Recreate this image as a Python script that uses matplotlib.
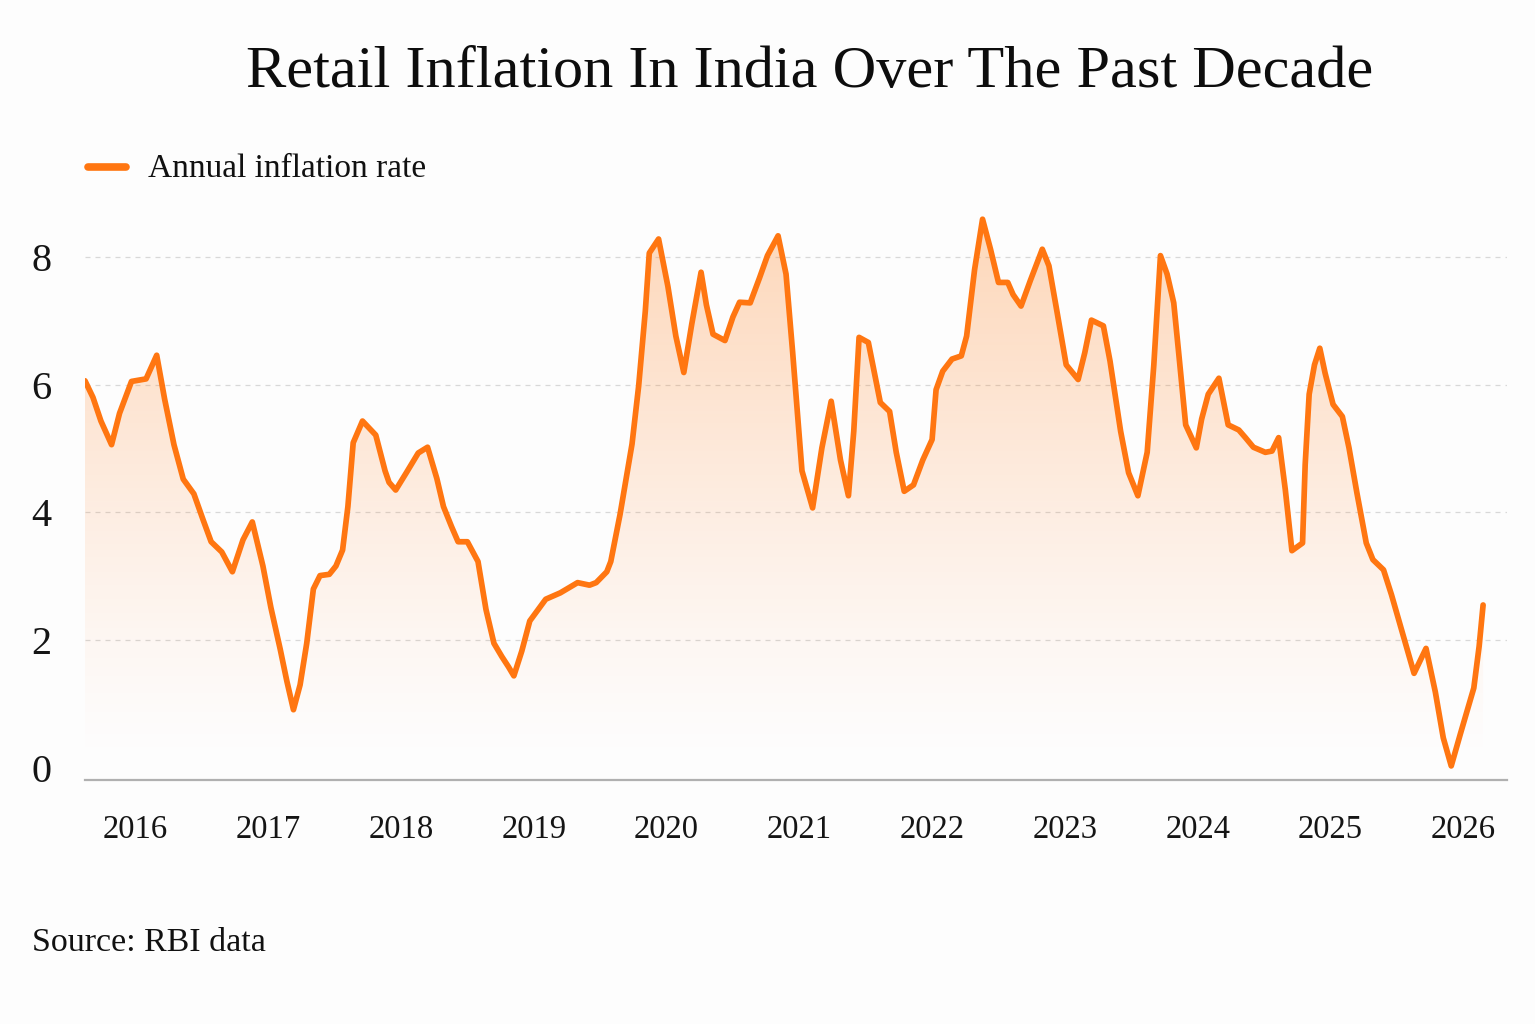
import numpy as np
import matplotlib.pyplot as plt
from matplotlib.lines import Line2D
from matplotlib.colors import LinearSegmentedColormap

# decimal year and annual CPI inflation (%)
dates = [2015.62, 2015.68, 2015.74, 2015.82, 2015.88, 2015.97, 2016.08, 2016.16, 2016.22, 2016.29,
         2016.36, 2016.44, 2016.51, 2016.57, 2016.65, 2016.73, 2016.81, 2016.88, 2016.96, 2017.02,
         2017.09, 2017.14, 2017.19, 2017.24, 2017.29, 2017.34, 2017.39, 2017.46, 2017.51, 2017.56,
         2017.60, 2017.64, 2017.71, 2017.81, 2017.88, 2017.91, 2017.96, 2018.04, 2018.13, 2018.20,
         2018.27, 2018.32, 2018.38, 2018.43, 2018.50, 2018.58, 2018.64, 2018.70, 2018.76, 2018.81,
         2018.85, 2018.91, 2018.97, 2019.09, 2019.20, 2019.33, 2019.42, 2019.47, 2019.55, 2019.58,
         2019.65, 2019.74, 2019.79, 2019.84, 2019.87, 2019.94, 2020.01, 2020.07, 2020.13, 2020.19,
         2020.26, 2020.30, 2020.35, 2020.44, 2020.50, 2020.55, 2020.63, 2020.70, 2020.76, 2020.84,
         2020.90, 2020.95, 2021.02, 2021.10, 2021.17, 2021.24, 2021.31, 2021.37, 2021.41, 2021.45,
         2021.52, 2021.57, 2021.61, 2021.68, 2021.73, 2021.79, 2021.86, 2021.93, 2022.00, 2022.03,
         2022.08, 2022.15, 2022.22, 2022.26, 2022.32, 2022.38, 2022.44, 2022.50, 2022.57, 2022.61,
         2022.67, 2022.74, 2022.83, 2022.88, 2022.94, 2023.01, 2023.10, 2023.15, 2023.20, 2023.29,
         2023.34, 2023.42, 2023.48, 2023.55, 2023.62, 2023.67, 2023.72, 2023.77, 2023.82, 2023.86,
         2023.91, 2023.99, 2024.03, 2024.08, 2024.16, 2024.23, 2024.31, 2024.36, 2024.42, 2024.51,
         2024.56, 2024.61, 2024.66, 2024.71, 2024.79, 2024.81, 2024.84, 2024.88, 2024.92, 2024.96,
         2025.02, 2025.09, 2025.14, 2025.20, 2025.27, 2025.32, 2025.40, 2025.46, 2025.54, 2025.63,
         2025.72, 2025.79, 2025.85, 2025.91, 2025.98, 2026.08, 2026.12, 2026.15]
inflation = [6.06, 5.80, 5.43, 5.06, 5.55, 6.05, 6.09, 6.46, 5.77, 5.06,
             4.52, 4.29, 3.88, 3.54, 3.38, 3.07, 3.57, 3.85, 3.16, 2.51,
             1.86, 1.36, 0.91, 1.30, 1.95, 2.80, 3.01, 3.03, 3.16, 3.41,
             4.09, 5.09, 5.43, 5.21, 4.65, 4.47, 4.35, 4.62, 4.93, 5.02,
             4.53, 4.09, 3.78, 3.54, 3.54, 3.23, 2.48, 1.95, 1.74, 1.58,
             1.44, 1.83, 2.30, 2.64, 2.74, 2.90, 2.86, 2.90, 3.07, 3.23,
             3.97, 5.07, 5.98, 7.15, 8.06, 8.28, 7.54, 6.76, 6.19, 6.95,
             7.76, 7.25, 6.79, 6.69, 7.06, 7.29, 7.28, 7.67, 8.02, 8.33,
             7.73, 6.50, 4.65, 4.07, 5.01, 5.74, 4.82, 4.26, 5.27, 6.74,
             6.66, 6.14, 5.72, 5.58, 4.94, 4.33, 4.43, 4.82, 5.14, 5.92,
             6.21, 6.40, 6.45, 6.76, 7.80, 8.59, 8.12, 7.60, 7.60, 7.41,
             7.23, 7.63, 8.12, 7.86, 7.15, 6.31, 6.08, 6.50, 7.01, 6.92,
             6.37, 5.27, 4.62, 4.26, 4.94, 6.31, 8.02, 7.73, 7.28, 6.44,
             5.37, 5.01, 5.46, 5.85, 6.10, 5.37, 5.29, 5.17, 5.02, 4.94,
             4.96, 5.17, 4.36, 3.40, 3.52, 4.75, 5.85, 6.31, 6.57, 6.18,
             5.69, 5.50, 5.01, 4.30, 3.52, 3.26, 3.10, 2.71, 2.13, 1.48,
             1.87, 1.19, 0.47, 0.03, 0.54, 1.25, 1.90, 2.55]

years = list(range(2016, 2027))
y_ticks = [0, 2, 4, 6, 8]

orange = '#ff7611'
plt.rcParams['font.family'] = ['Liberation Serif', 'DejaVu Serif']

fig = plt.figure(figsize=(15.35, 10.24), dpi=100, facecolor='#fdfdfd')
ax = fig.add_axes([85 / 1535, 0.2383, (1507 - 85) / 1535, 0.8115 - 0.2383])
ax.set_facecolor('#fdfdfd')

x = np.array(dates)
y = np.array(inflation)
ax.set_xlim(2015.62, 2026.33)
ax.set_ylim(-0.19, 9.0)

# gradient fill under the curve, clipped to the area below the line
cmap = LinearSegmentedColormap.from_list('fade', [(1, 0.46, 0.07, 0.0), (1, 0.55, 0.2, 0.34)])
grad = np.linspace(0, 1, 256).reshape(-1, 1) ** 1.3
img = ax.imshow(grad, extent=[x[0], x[-1], 0, 8.8], origin='lower', aspect='auto',
                cmap=cmap, zorder=1, interpolation='bicubic')
poly = ax.fill_between(x, 0, y, color='none', lw=0)
img.set_clip_path(poly.get_paths()[0], transform=ax.transData)

ax.plot(x, y, color=orange, lw=4.1, solid_joinstyle='round', solid_capstyle='round', zorder=3)

for v in y_ticks[1:]:
    ax.axhline(v, color='#d8d8d8', lw=0.9, ls=(0, (4, 4)), zorder=0)

for s in ['top', 'right', 'left']:
    ax.spines[s].set_visible(False)
ax.spines['bottom'].set_color('#b0b0b0')
ax.spines['bottom'].set_linewidth(1.6)

ax.set_xticks(years)
ax.set_xticklabels([str(yr) for yr in years], fontsize=23.5, color='#151515')
ax.set_yticks(y_ticks)
ax.set_yticklabels([str(v) for v in y_ticks], fontsize=29, color='#151515')
ax.tick_params(axis='x', length=0, pad=25)
ax.tick_params(axis='y', length=0, pad=24)

fig.text(0.5275, 1 - 73 / 1024, 'Retail Inflation In India Over The Past Decade', ha='center',
         va='center', fontsize=43.5, color='#0d0d0d')

fig.add_artist(Line2D([88 / 1535, 126 / 1535], [1 - 167 / 1024] * 2, color=orange, lw=5.5,
                      solid_capstyle='round'))
fig.text(148 / 1535, 1 - 169 / 1024, 'Annual inflation rate', ha='left', va='center',
         fontsize=24, color='#111111')

fig.text(32 / 1535, 1 - 943 / 1024, 'Source: RBI data', ha='left', va='center',
         fontsize=24.5, color='#111111')

fig.savefig('out.png', dpi=100, facecolor=fig.get_facecolor())
